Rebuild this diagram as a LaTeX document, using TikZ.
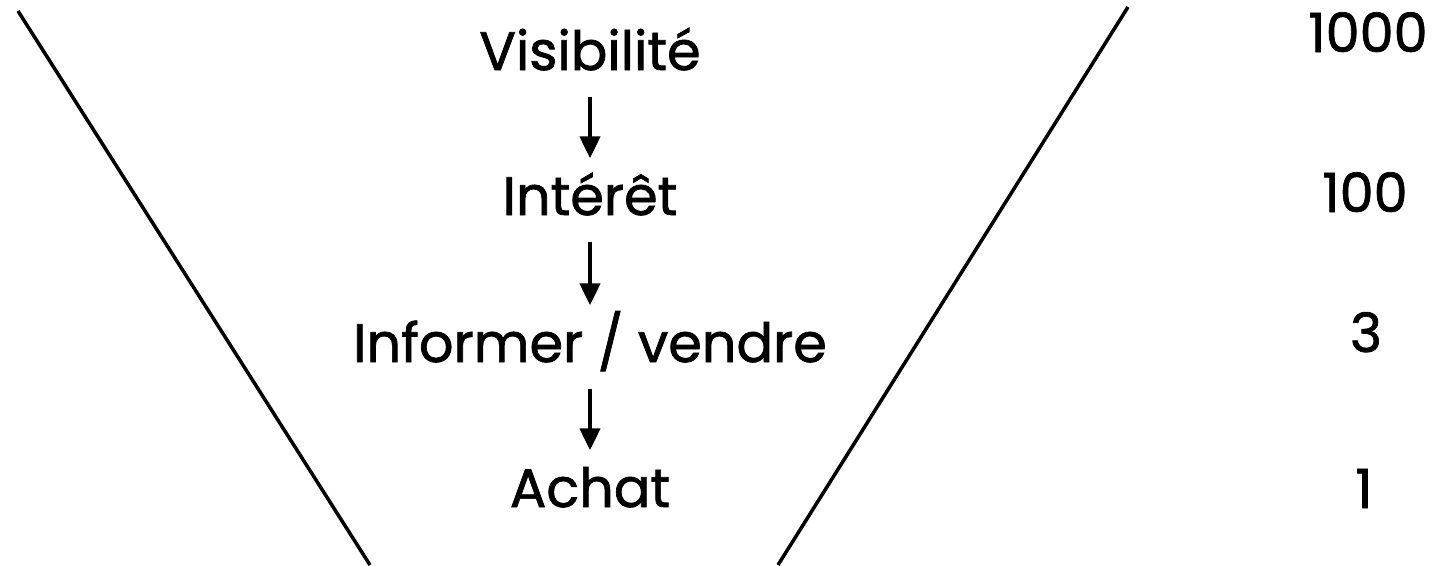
\documentclass[tikz,border=0pt]{standalone}
\usepackage{fontspec}
\setmainfont{Poppins}[FakeBold=1.3]
\usetikzlibrary{arrows.meta}

\tikzset{
  etape/.style={anchor=base, inner sep=0pt, text height=4mm, text depth=0pt, font=\fontsize{15.4}{18}\selectfont},
  nombre/.style={etape},
  fleche/.style={line width=1.3pt, -{Triangle[length=2.2mm,width=2mm]}, shorten <=2.6mm, shorten >=1.6mm}
}

\begin{document}
\begin{tikzpicture}[scale=1.0]
\useasboundingbox (0, 0) rectangle (14.45, 5.65);

\draw[line width=1pt] (0.18, 5.54) -- (3.70, 0);
\draw[line width=1pt] (11.28, 5.58) -- (7.78, 0);

\node[etape] (vis) at (5.90, 4.95) {Visibilité};
\node[etape] (int) at (5.90, 3.50) {Intérêt};
\node[etape] (inf) at (5.90, 2.03) {Informer / vendre};
\node[etape] (ach) at (5.90, 0.58) {Achat};

\node[nombre] (n1000) at (13.68, 5.13) {1000};
\node[nombre] (n100) at (13.65, 3.53) {100};
\node[nombre] (n3) at (13.66, 2.13) {3};
\node[nombre] (n1) at (13.64, 0.57) {1};

\draw[fleche] (vis.south) -- (int.north);
\draw[fleche] (int.south) -- (inf.north);
\draw[fleche] (inf.south) -- (ach.north);

\end{tikzpicture}
\end{document}
